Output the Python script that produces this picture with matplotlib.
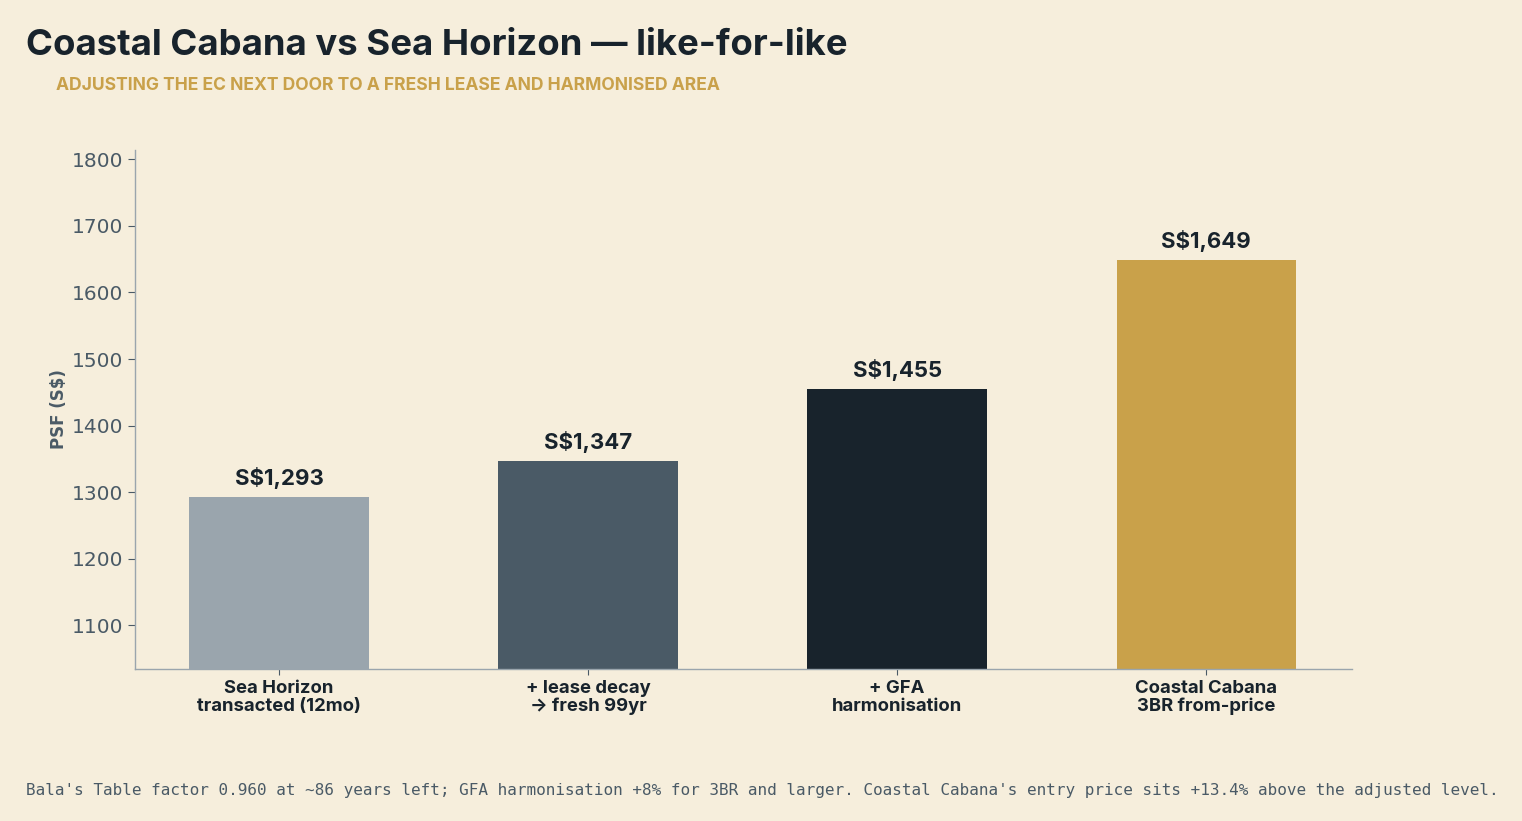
import matplotlib
matplotlib.use("Agg")
import matplotlib.pyplot as plt

# ---------------------------------------------------------------------------
# Data
# ---------------------------------------------------------------------------
categories = [
    "Sea Horizon\ntransacted (12mo)",
    "+ lease decay\n\u2192 fresh 99yr",
    "+ GFA\nharmonisation",
    "Coastal Cabana\n3BR from-price",
]
psf_values = [1293, 1347, 1455, 1649]
yticks = [1100, 1200, 1300, 1400, 1500, 1600, 1700, 1800]

# ---------------------------------------------------------------------------
# Styling
# ---------------------------------------------------------------------------
BG = "#f6eedc"
INK = "#18232c"
SLATE = "#4a5a66"
GREY = "#9aa5ad"
GOLD = "#c9a14a"
bar_colors = [GREY, SLATE, INK, GOLD]

fig = plt.figure(figsize=(15.22, 8.21), dpi=100, facecolor=BG)
ax = fig.add_axes([0.0887, 0.1851, 0.7996, 0.6322])
ax.set_facecolor(BG)

x = list(range(len(categories)))
ax.bar(x, psf_values, width=0.58, color=bar_colors, zorder=2)

ax.set_xlim(-0.466, 3.472)
ax.set_ylim(min(psf_values) * 0.8, max(psf_values) * 1.1)
ax.set_yticks(yticks)
ax.set_xticks(x)
ax.set_xticklabels(categories, fontsize=13.3, fontweight="bold", color=INK,
                   linespacing=1.05, family="Inter")

for xi, v in zip(x, psf_values):
    ax.text(xi, v + 12, f"S${v:,}", ha="center", va="bottom",
            fontsize=16, fontweight="bold", color=INK, family="Inter")

for side in ("top", "right"):
    ax.spines[side].set_visible(False)
for side in ("left", "bottom"):
    ax.spines[side].set_color(GREY)
    ax.spines[side].set_linewidth(1.0)

ax.tick_params(axis="y", labelsize=14.5, labelcolor=SLATE, color=SLATE, length=5, width=0.8)
ax.tick_params(axis="x", color=SLATE, length=4, width=0.8, pad=4)
ax.set_ylabel("PSF (S$)", fontsize=12, fontweight="bold", color=SLATE, labelpad=3)

# ---------------------------------------------------------------------------
# Titles and footer
# ---------------------------------------------------------------------------
fig.text(0.017, 0.933, "Coastal Cabana vs Sea Horizon \u2014 like-for-like",
         fontsize=26.3, fontweight="bold", color=INK, family="Inter", va="baseline")
fig.text(0.037, 0.890, "ADJUSTING THE EC NEXT DOOR TO A FRESH LEASE AND HARMONISED AREA",
         fontsize=12.6, fontweight="bold", color=GOLD, family="Inter", va="baseline")
fig.text(0.017, 0.032,
         "Bala's Table factor 0.960 at ~86 years left; GFA harmonisation +8% for 3BR and larger. "
         "Coastal Cabana's entry price sits +13.4% above the adjusted level.",
         fontsize=11.55, color=SLATE, family="DejaVu Sans Mono", va="baseline")

fig.savefig("out.png", dpi=100, facecolor=BG)
